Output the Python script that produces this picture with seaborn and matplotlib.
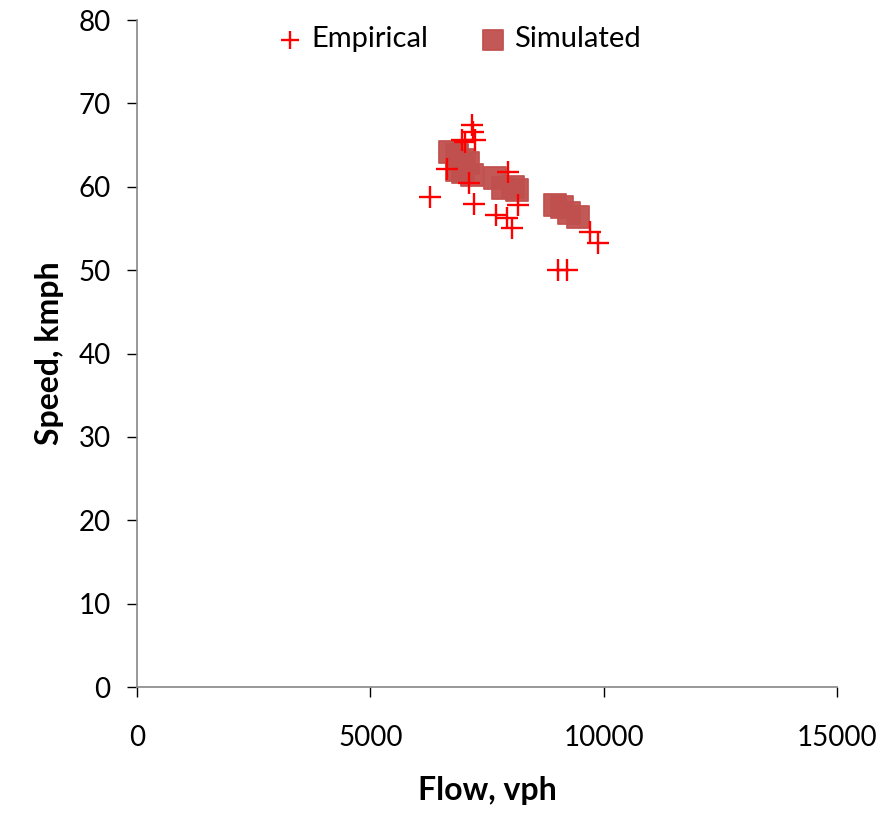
import matplotlib
matplotlib.use('Agg')
import matplotlib.pyplot as plt
import seaborn as sns
import pandas as pd

# values
emp_flow = [6280, 7190, 7200, 7240, 6960, 7030, 6640, 7110, 7220, 7690, 7940, 8030,
            7950, 8160, 9710, 9890, 9030, 9210]
emp_speed = [58.8, 67.4, 66.6, 65.6, 65.6, 65.4, 62.1, 60.4, 57.9, 56.6, 56.2, 55.1,
             61.8, 57.8, 54.6, 53.2, 50.0, 50.0]

sim_flow = [6700, 6850, 7000, 7100, 6850, 6990, 7170, 7670, 7850, 8050, 8140,
            8950, 9100, 9250, 9460]
sim_speed = [64.2, 63.8, 63.2, 62.8, 62.0, 61.8, 61.4, 61.0, 59.8, 60.0, 59.6,
             57.8, 57.6, 56.8, 56.4]

emp = pd.DataFrame({'Flow': emp_flow, 'Speed': emp_speed})
sim = pd.DataFrame({'Flow': sim_flow, 'Speed': sim_speed})

sns.set_style('white')
plt.rcParams['font.family'] = ['Lato', 'DejaVu Sans']
plt.rcParams['text.color'] = 'black'
plt.rcParams['axes.labelcolor'] = 'black'

fig = plt.figure(figsize=(8.94, 8.15), dpi=100)
ax = fig.add_axes([0.1532, 0.157, 0.783, 0.8184])

sns.scatterplot(data=sim, x='Flow', y='Speed', ax=ax, marker='s', s=270,
                color='#C0504D', edgecolor='#C0504D', alpha=0.95, label='Simulated', zorder=2)
sns.scatterplot(data=emp, x='Flow', y='Speed', ax=ax, marker='+', s=230,
                color='#FF0000', linewidth=1.7, label='Empirical', zorder=3)

ax.set_xlim(0, 15000)
ax.set_ylim(0, 80)
ax.set_xticks([0, 5000, 10000, 15000])
ax.set_yticks(range(0, 81, 10))
ax.set_xlabel('Flow, vph', fontsize=23, fontweight='bold', labelpad=18)
ax.set_ylabel('Speed, kmph', fontsize=23, fontweight='bold', labelpad=10)
ax.tick_params(axis='both', labelsize=20, colors='black', length=7, width=1,
               direction='out', bottom=True, left=True)
ax.tick_params(axis='x', pad=20)
ax.tick_params(axis='y', pad=12)
for t in ax.xaxis.get_major_ticks():
    t.tick1line.set_color('#868686')
for t in ax.yaxis.get_major_ticks():
    t.tick1line.set_color('#868686')

for side in ['top', 'right']:
    ax.spines[side].set_visible(False)
for side in ['left', 'bottom']:
    ax.spines[side].set_color('#868686')
    ax.spines[side].set_linewidth(1.2)

h, l = ax.get_legend_handles_labels()
ax.legend([h[1], h[0]], [l[1], l[0]], loc='upper center', bbox_to_anchor=(0.46, 1.03),
          ncol=2, frameon=False, fontsize=21, handlelength=0.9, handletextpad=0.25,
          columnspacing=1.8, markerscale=0.85)

fig.savefig('out.png', dpi=100)
